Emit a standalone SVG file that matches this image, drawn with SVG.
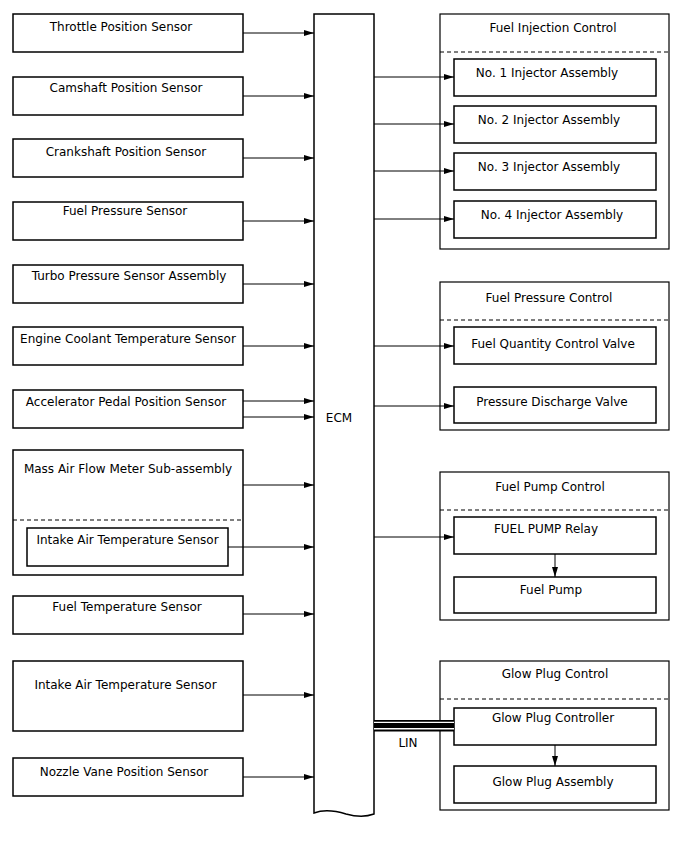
<svg xmlns="http://www.w3.org/2000/svg" width="688" height="852" viewBox="0 0 688 852">
<style>
.box{fill:#fff;stroke:#000;stroke-width:1.5}
.grp{fill:#fff;stroke:#000;stroke-width:1.2}
.dash{stroke:#000;stroke-width:1;stroke-dasharray:4 3;fill:none}
.t{font-family:"DejaVu Sans",sans-serif;font-size:12px;fill:#000;text-anchor:middle}
.c{stroke:#000;stroke-width:1;fill:none;marker-end:url(#ah)}
</style>
<defs>
<marker id="ah" viewBox="0 0 10 6" refX="10" refY="3" markerWidth="10" markerHeight="6" markerUnits="userSpaceOnUse" orient="auto">
<path d="M0,0 L10,3 L0,6 z" fill="#000"/>
</marker>
</defs>
<rect width="688" height="852" fill="#fff"/>

<g id="n-throttle"><rect class="box" x="13" y="14" width="230" height="38"/><text class="t" x="121" y="30.5">Throttle Position Sensor</text></g>
<g id="n-camshaft"><rect class="box" x="13" y="77" width="230" height="38"/><text class="t" x="126" y="91.5">Camshaft Position Sensor</text></g>
<g id="n-crankshaft"><rect class="box" x="13" y="139" width="230" height="38"/><text class="t" x="126" y="155.5">Crankshaft Position Sensor</text></g>
<g id="n-fuelpress"><rect class="box" x="13" y="202" width="230" height="38"/><text class="t" x="125" y="214.5">Fuel Pressure Sensor</text></g>
<g id="n-turbo"><rect class="box" x="13" y="265" width="230" height="38"/><text class="t" x="129" y="279.5">Turbo Pressure Sensor Assembly</text></g>
<g id="n-ect"><rect class="box" x="13" y="327" width="230" height="38"/><text class="t" x="128" y="342.5">Engine Coolant Temperature Sensor</text></g>
<g id="n-app"><rect class="box" x="13" y="390" width="230" height="38"/><text class="t" x="126" y="405.5">Accelerator Pedal Position Sensor</text></g>
<g id="n-maf"><rect class="box" x="13" y="450" width="230" height="125"/><text class="t" x="128" y="472.5">Mass Air Flow Meter Sub-assembly</text><line class="dash" x1="13" y1="520" x2="243" y2="520"/></g>
<g id="n-iat-inner"><rect class="box" x="27" y="528" width="201" height="38"/><text class="t" x="127.5" y="543.5">Intake Air Temperature Sensor</text></g>
<g id="n-fueltemp"><rect class="box" x="13" y="596" width="230" height="38"/><text class="t" x="127" y="610.5">Fuel Temperature Sensor</text></g>
<g id="n-iat"><rect class="box" x="13" y="661" width="230" height="70"/><text class="t" x="125.5" y="688.5">Intake Air Temperature Sensor</text></g>
<g id="n-nozzle"><rect class="box" x="13" y="758" width="230" height="38"/><text class="t" x="124" y="775.5">Nozzle Vane Position Sensor</text></g>

<g id="n-ecm"><path class="box" d="M314,14 L374,14 L374,814 C366,817 357,817 346,814 C336,811 325,809 314,813 Z"/><text class="t" x="339" y="421.5">ECM</text></g>

<g id="g-fuelinj"><rect class="grp" x="440" y="14" width="229" height="235"/><text class="t" x="553" y="31.5">Fuel Injection Control</text><line class="dash" x1="440" y1="52" x2="669" y2="52"/></g>
<g id="n-inj1"><rect class="box" x="454" y="59" width="202" height="37"/><text class="t" x="547" y="76.5">No. 1 Injector Assembly</text></g>
<g id="n-inj2"><rect class="box" x="454" y="106" width="202" height="37"/><text class="t" x="549" y="123.5">No. 2 Injector Assembly</text></g>
<g id="n-inj3"><rect class="box" x="454" y="153" width="202" height="37"/><text class="t" x="549" y="170.5">No. 3 Injector Assembly</text></g>
<g id="n-inj4"><rect class="box" x="454" y="201" width="202" height="37"/><text class="t" x="552" y="218.5">No. 4 Injector Assembly</text></g>

<g id="g-fuelpress"><rect class="grp" x="440" y="282" width="229" height="148"/><text class="t" x="549" y="301.5">Fuel Pressure Control</text><line class="dash" x1="440" y1="320" x2="669" y2="320"/></g>
<g id="n-fqcv"><rect class="box" x="454" y="327" width="202" height="37"/><text class="t" x="553" y="347.5">Fuel Quantity Control Valve</text></g>
<g id="n-pdv"><rect class="box" x="454" y="387" width="202" height="36"/><text class="t" x="552" y="405.5">Pressure Discharge Valve</text></g>

<g id="g-fuelpump"><rect class="grp" x="440" y="472" width="229" height="148"/><text class="t" x="550" y="490.5">Fuel Pump Control</text><line class="dash" x1="440" y1="510" x2="669" y2="510"/></g>
<g id="n-relay"><rect class="box" x="454" y="517" width="202" height="37"/><text class="t" x="546" y="532.5">FUEL PUMP Relay</text></g>
<g id="n-pump"><rect class="box" x="454" y="577" width="202" height="36"/><text class="t" x="551" y="593.5">Fuel Pump</text></g>

<g id="g-glow"><rect class="grp" x="440" y="661" width="229" height="149"/><text class="t" x="555" y="677.5">Glow Plug Control</text><line class="dash" x1="440" y1="699" x2="669" y2="699"/></g>
<g id="n-glowctl"><rect class="box" x="454" y="708" width="202" height="37"/><text class="t" x="553" y="721.5">Glow Plug Controller</text></g>
<g id="n-glowasm"><rect class="box" x="454" y="766" width="202" height="37"/><text class="t" x="553" y="785.5">Glow Plug Assembly</text></g>

<g id="connectors">
<line class="c" x1="243" y1="33" x2="314" y2="33"/>
<line class="c" x1="243" y1="96" x2="314" y2="96"/>
<line class="c" x1="243" y1="158" x2="314" y2="158"/>
<line class="c" x1="243" y1="221" x2="314" y2="221"/>
<line class="c" x1="243" y1="284" x2="314" y2="284"/>
<line class="c" x1="243" y1="346" x2="314" y2="346"/>
<line class="c" x1="243" y1="401" x2="314" y2="401"/>
<line class="c" x1="243" y1="417" x2="314" y2="417"/>
<line class="c" x1="243" y1="485" x2="314" y2="485"/>
<line class="c" x1="228" y1="547" x2="314" y2="547"/>
<line class="c" x1="243" y1="614" x2="314" y2="614"/>
<line class="c" x1="243" y1="695" x2="314" y2="695"/>
<line class="c" x1="243" y1="777" x2="314" y2="777"/>
<line class="c" x1="374" y1="77" x2="454" y2="77"/>
<line class="c" x1="374" y1="124" x2="454" y2="124"/>
<line class="c" x1="374" y1="171" x2="454" y2="171"/>
<line class="c" x1="374" y1="219" x2="454" y2="219"/>
<line class="c" x1="374" y1="346" x2="454" y2="346"/>
<line class="c" x1="374" y1="406" x2="454" y2="406"/>
<line class="c" x1="374" y1="537" x2="454" y2="537"/>
<line class="c" x1="555" y1="554" x2="555" y2="577"/>
<line class="c" x1="555" y1="745" x2="555" y2="766"/>
<g id="lin">
<rect x="374" y="720" width="80" height="11.5" fill="#000"/>
<line x1="374" y1="722.4" x2="454" y2="722.4" stroke="#fff" stroke-width="1.4"/>
<line x1="374" y1="728.8" x2="454" y2="728.8" stroke="#fff" stroke-width="1.4"/>
<text class="t" x="408" y="746.5">LIN</text>
</g>
</g>
</svg>
